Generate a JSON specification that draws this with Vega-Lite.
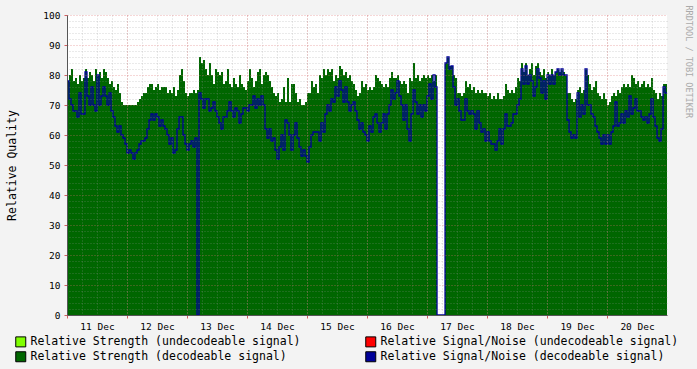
{
"$schema": "https://vega.github.io/schema/vega-lite/v6.json",
"width": 600, "height": 300,
"autosize": {"type": "none"},
"padding": {"left": 67, "top": 15, "right": 30, "bottom": 54},
"background": "#f3f3f3",
"view": {"fill": "white", "stroke": null},
"config": {"font": "DejaVu Sans Mono"},
"datasets": {"rrd": [
{"t":"2023-12-11T00:00","s":78,"n":78},{"t":"2023-12-11T00:48","s":80,"n":72},{"t":"2023-12-11T01:36","s":82,"n":70},{"t":"2023-12-11T02:24","s":78,"n":68},{"t":"2023-12-11T03:12","s":79,"n":68},{"t":"2023-12-11T04:00","s":77,"n":66},{"t":"2023-12-11T04:48","s":80,"n":74},{"t":"2023-12-11T05:36","s":78,"n":67},{"t":"2023-12-11T06:24","s":79,"n":67},{"t":"2023-12-11T07:12","s":82,"n":81},
{"t":"2023-12-11T08:00","s":79,"n":73},{"t":"2023-12-11T08:48","s":81,"n":70},{"t":"2023-12-11T09:36","s":80,"n":76},{"t":"2023-12-11T10:24","s":78,"n":70},{"t":"2023-12-11T11:12","s":82,"n":68},{"t":"2023-12-11T12:00","s":80,"n":80},{"t":"2023-12-11T12:48","s":81,"n":70},{"t":"2023-12-11T13:36","s":79,"n":73},{"t":"2023-12-11T14:24","s":82,"n":76},{"t":"2023-12-11T15:12","s":81,"n":73},
{"t":"2023-12-11T16:00","s":79,"n":70},{"t":"2023-12-11T16:48","s":77,"n":74},{"t":"2023-12-11T17:36","s":78,"n":68},{"t":"2023-12-11T18:24","s":76,"n":66},{"t":"2023-12-11T19:12","s":75,"n":63},{"t":"2023-12-11T20:00","s":77,"n":61},{"t":"2023-12-11T20:48","s":74,"n":63},{"t":"2023-12-11T21:36","s":71,"n":60},{"t":"2023-12-11T22:24","s":70,"n":59},{"t":"2023-12-11T23:12","s":70,"n":57},
{"t":"2023-12-12T00:00","s":70,"n":54},{"t":"2023-12-12T00:48","s":70,"n":55},{"t":"2023-12-12T01:36","s":70,"n":54},{"t":"2023-12-12T02:24","s":70,"n":52},{"t":"2023-12-12T03:12","s":70,"n":54},{"t":"2023-12-12T04:00","s":71,"n":55},{"t":"2023-12-12T04:48","s":72,"n":57},{"t":"2023-12-12T05:36","s":73,"n":58},{"t":"2023-12-12T06:24","s":74,"n":58},{"t":"2023-12-12T07:12","s":74,"n":59},
{"t":"2023-12-12T08:00","s":76,"n":62},{"t":"2023-12-12T08:48","s":77,"n":65},{"t":"2023-12-12T09:36","s":77,"n":67},{"t":"2023-12-12T10:24","s":75,"n":65},{"t":"2023-12-12T11:12","s":76,"n":67},{"t":"2023-12-12T12:00","s":77,"n":66},{"t":"2023-12-12T12:48","s":75,"n":63},{"t":"2023-12-12T13:36","s":76,"n":65},{"t":"2023-12-12T14:24","s":76,"n":63},{"t":"2023-12-12T15:12","s":76,"n":62},
{"t":"2023-12-12T16:00","s":74,"n":60},{"t":"2023-12-12T16:48","s":75,"n":57},{"t":"2023-12-12T17:36","s":74,"n":59},{"t":"2023-12-12T18:24","s":76,"n":54},{"t":"2023-12-12T19:12","s":73,"n":55},{"t":"2023-12-12T20:00","s":75,"n":62},{"t":"2023-12-12T20:48","s":80,"n":66},{"t":"2023-12-12T21:36","s":82,"n":66},{"t":"2023-12-12T22:24","s":78,"n":60},{"t":"2023-12-12T23:12","s":74,"n":57},
{"t":"2023-12-13T00:00","s":73,"n":55},{"t":"2023-12-13T00:48","s":74,"n":57},{"t":"2023-12-13T01:36","s":74,"n":58},{"t":"2023-12-13T02:24","s":75,"n":56},{"t":"2023-12-13T03:12","s":74,"n":59},{"t":"2023-12-13T04:00","s":75,"n":0},{"t":"2023-12-13T04:48","s":86,"n":74},{"t":"2023-12-13T05:36","s":84,"n":72},{"t":"2023-12-13T06:24","s":85,"n":69},{"t":"2023-12-13T07:12","s":82,"n":72},
{"t":"2023-12-13T08:00","s":80,"n":72},{"t":"2023-12-13T08:48","s":84,"n":68},{"t":"2023-12-13T09:36","s":80,"n":69},{"t":"2023-12-13T10:24","s":77,"n":71},{"t":"2023-12-13T11:12","s":82,"n":68},{"t":"2023-12-13T12:00","s":81,"n":66},{"t":"2023-12-13T12:48","s":80,"n":64},{"t":"2023-12-13T13:36","s":81,"n":62},{"t":"2023-12-13T14:24","s":77,"n":66},{"t":"2023-12-13T15:12","s":78,"n":66},
{"t":"2023-12-13T16:00","s":82,"n":68},{"t":"2023-12-13T16:48","s":77,"n":71},{"t":"2023-12-13T17:36","s":76,"n":68},{"t":"2023-12-13T18:24","s":79,"n":66},{"t":"2023-12-13T19:12","s":77,"n":69},{"t":"2023-12-13T20:00","s":76,"n":68},{"t":"2023-12-13T20:48","s":80,"n":64},{"t":"2023-12-13T21:36","s":77,"n":67},{"t":"2023-12-13T22:24","s":76,"n":69},{"t":"2023-12-13T23:12","s":75,"n":69},
{"t":"2023-12-14T00:00","s":78,"n":68},{"t":"2023-12-14T00:48","s":82,"n":70},{"t":"2023-12-14T01:36","s":79,"n":70},{"t":"2023-12-14T02:24","s":76,"n":73},{"t":"2023-12-14T03:12","s":78,"n":69},{"t":"2023-12-14T04:00","s":81,"n":72},{"t":"2023-12-14T04:48","s":82,"n":70},{"t":"2023-12-14T05:36","s":77,"n":73},{"t":"2023-12-14T06:24","s":80,"n":70},{"t":"2023-12-14T07:12","s":81,"n":62},
{"t":"2023-12-14T08:00","s":80,"n":59},{"t":"2023-12-14T08:48","s":78,"n":62},{"t":"2023-12-14T09:36","s":76,"n":58},{"t":"2023-12-14T10:24","s":74,"n":59},{"t":"2023-12-14T11:12","s":73,"n":55},{"t":"2023-12-14T12:00","s":74,"n":52},{"t":"2023-12-14T12:48","s":71,"n":56},{"t":"2023-12-14T13:36","s":72,"n":60},{"t":"2023-12-14T14:24","s":76,"n":55},{"t":"2023-12-14T15:12","s":71,"n":65},
{"t":"2023-12-14T16:00","s":79,"n":64},{"t":"2023-12-14T16:48","s":71,"n":60},{"t":"2023-12-14T17:36","s":77,"n":55},{"t":"2023-12-14T18:24","s":77,"n":60},{"t":"2023-12-14T19:12","s":74,"n":64},{"t":"2023-12-14T20:00","s":71,"n":59},{"t":"2023-12-14T20:48","s":72,"n":56},{"t":"2023-12-14T21:36","s":70,"n":53},{"t":"2023-12-14T22:24","s":70,"n":55},{"t":"2023-12-14T23:12","s":71,"n":53},
{"t":"2023-12-15T00:00","s":74,"n":51},{"t":"2023-12-15T00:48","s":74,"n":56},{"t":"2023-12-15T01:36","s":78,"n":60},{"t":"2023-12-15T02:24","s":76,"n":61},{"t":"2023-12-15T03:12","s":77,"n":61},{"t":"2023-12-15T04:00","s":74,"n":61},{"t":"2023-12-15T04:48","s":80,"n":58},{"t":"2023-12-15T05:36","s":79,"n":64},{"t":"2023-12-15T06:24","s":82,"n":61},{"t":"2023-12-15T07:12","s":80,"n":67},
{"t":"2023-12-15T08:00","s":82,"n":70},{"t":"2023-12-15T08:48","s":81,"n":68},{"t":"2023-12-15T09:36","s":82,"n":72},{"t":"2023-12-15T10:24","s":78,"n":71},{"t":"2023-12-15T11:12","s":80,"n":76},{"t":"2023-12-15T12:00","s":79,"n":73},{"t":"2023-12-15T12:48","s":83,"n":78},{"t":"2023-12-15T13:36","s":82,"n":75},{"t":"2023-12-15T14:24","s":80,"n":71},{"t":"2023-12-15T15:12","s":81,"n":76},
{"t":"2023-12-15T16:00","s":79,"n":71},{"t":"2023-12-15T16:48","s":80,"n":68},{"t":"2023-12-15T17:36","s":78,"n":70},{"t":"2023-12-15T18:24","s":77,"n":71},{"t":"2023-12-15T19:12","s":75,"n":68},{"t":"2023-12-15T20:00","s":73,"n":65},{"t":"2023-12-15T20:48","s":74,"n":62},{"t":"2023-12-15T21:36","s":78,"n":64},{"t":"2023-12-15T22:24","s":76,"n":61},{"t":"2023-12-15T23:12","s":77,"n":60},
{"t":"2023-12-16T00:00","s":75,"n":58},{"t":"2023-12-16T00:48","s":76,"n":63},{"t":"2023-12-16T01:36","s":75,"n":61},{"t":"2023-12-16T02:24","s":76,"n":66},{"t":"2023-12-16T03:12","s":80,"n":67},{"t":"2023-12-16T04:00","s":79,"n":64},{"t":"2023-12-16T04:48","s":78,"n":61},{"t":"2023-12-16T05:36","s":77,"n":64},{"t":"2023-12-16T06:24","s":76,"n":67},{"t":"2023-12-16T07:12","s":77,"n":62},
{"t":"2023-12-16T08:00","s":76,"n":67},{"t":"2023-12-16T08:48","s":79,"n":70},{"t":"2023-12-16T09:36","s":81,"n":75},{"t":"2023-12-16T10:24","s":79,"n":72},{"t":"2023-12-16T11:12","s":79,"n":74},{"t":"2023-12-16T12:00","s":80,"n":78},{"t":"2023-12-16T12:48","s":78,"n":73},{"t":"2023-12-16T13:36","s":77,"n":70},{"t":"2023-12-16T14:24","s":78,"n":65},{"t":"2023-12-16T15:12","s":77,"n":70},
{"t":"2023-12-16T16:00","s":74,"n":62},{"t":"2023-12-16T16:48","s":79,"n":58},{"t":"2023-12-16T17:36","s":78,"n":67},{"t":"2023-12-16T18:24","s":84,"n":75},{"t":"2023-12-16T19:12","s":79,"n":71},{"t":"2023-12-16T20:00","s":80,"n":67},{"t":"2023-12-16T20:48","s":78,"n":70},{"t":"2023-12-16T21:36","s":79,"n":66},{"t":"2023-12-16T22:24","s":80,"n":70},{"t":"2023-12-16T23:12","s":79,"n":68},
{"t":"2023-12-17T00:00","s":80,"n":73},{"t":"2023-12-17T00:48","s":79,"n":77},{"t":"2023-12-17T01:36","s":80,"n":72},{"t":"2023-12-17T02:24","s":78,"n":80},{"t":"2023-12-17T03:12","s":80,"n":76},{"t":"2023-12-17T04:00","s":0,"n":0},{"t":"2023-12-17T04:48","s":0,"n":0},{"t":"2023-12-17T05:36","s":0,"n":0},{"t":"2023-12-17T06:24","s":0,"n":0},{"t":"2023-12-17T07:12","s":84,"n":84},
{"t":"2023-12-17T08:00","s":86,"n":86},{"t":"2023-12-17T08:48","s":83,"n":82},{"t":"2023-12-17T09:36","s":83,"n":83},{"t":"2023-12-17T10:24","s":80,"n":76},{"t":"2023-12-17T11:12","s":79,"n":70},{"t":"2023-12-17T12:00","s":74,"n":72},{"t":"2023-12-17T12:48","s":74,"n":68},{"t":"2023-12-17T13:36","s":73,"n":65},{"t":"2023-12-17T14:24","s":74,"n":65},{"t":"2023-12-17T15:12","s":78,"n":72},
{"t":"2023-12-17T16:00","s":76,"n":68},{"t":"2023-12-17T16:48","s":77,"n":67},{"t":"2023-12-17T17:36","s":75,"n":68},{"t":"2023-12-17T18:24","s":76,"n":67},{"t":"2023-12-17T19:12","s":74,"n":62},{"t":"2023-12-17T20:00","s":75,"n":68},{"t":"2023-12-17T20:48","s":74,"n":64},{"t":"2023-12-17T21:36","s":75,"n":61},{"t":"2023-12-17T22:24","s":74,"n":62},{"t":"2023-12-17T23:12","s":74,"n":58},
{"t":"2023-12-18T00:00","s":73,"n":61},{"t":"2023-12-18T00:48","s":74,"n":58},{"t":"2023-12-18T01:36","s":72,"n":57},{"t":"2023-12-18T02:24","s":73,"n":57},{"t":"2023-12-18T03:12","s":72,"n":55},{"t":"2023-12-18T04:00","s":74,"n":58},{"t":"2023-12-18T04:48","s":72,"n":62},{"t":"2023-12-18T05:36","s":72,"n":57},{"t":"2023-12-18T06:24","s":73,"n":62},{"t":"2023-12-18T07:12","s":77,"n":67},
{"t":"2023-12-18T08:00","s":75,"n":63},{"t":"2023-12-18T08:48","s":74,"n":63},{"t":"2023-12-18T09:36","s":75,"n":64},{"t":"2023-12-18T10:24","s":74,"n":67},{"t":"2023-12-18T11:12","s":76,"n":67},{"t":"2023-12-18T12:00","s":79,"n":70},{"t":"2023-12-18T12:48","s":78,"n":72},{"t":"2023-12-18T13:36","s":84,"n":82},{"t":"2023-12-18T14:24","s":81,"n":77},{"t":"2023-12-18T15:12","s":84,"n":83},
{"t":"2023-12-18T16:00","s":80,"n":77},{"t":"2023-12-18T16:48","s":82,"n":80},{"t":"2023-12-18T17:36","s":84,"n":78},{"t":"2023-12-18T18:24","s":80,"n":73},{"t":"2023-12-18T19:12","s":83,"n":76},{"t":"2023-12-18T20:00","s":84,"n":82},{"t":"2023-12-18T20:48","s":81,"n":79},{"t":"2023-12-18T21:36","s":80,"n":74},{"t":"2023-12-18T22:24","s":82,"n":78},{"t":"2023-12-18T23:12","s":79,"n":72},
{"t":"2023-12-19T00:00","s":81,"n":80},{"t":"2023-12-19T00:48","s":80,"n":77},{"t":"2023-12-19T01:36","s":82,"n":80},{"t":"2023-12-19T02:24","s":80,"n":77},{"t":"2023-12-19T03:12","s":81,"n":81},{"t":"2023-12-19T04:00","s":82,"n":82},{"t":"2023-12-19T04:48","s":81,"n":80},{"t":"2023-12-19T05:36","s":82,"n":82},{"t":"2023-12-19T06:24","s":81,"n":80},{"t":"2023-12-19T07:12","s":80,"n":80},
{"t":"2023-12-19T08:00","s":74,"n":65},{"t":"2023-12-19T08:48","s":74,"n":61},{"t":"2023-12-19T09:36","s":72,"n":59},{"t":"2023-12-19T10:24","s":71,"n":60},{"t":"2023-12-19T11:12","s":72,"n":59},{"t":"2023-12-19T12:00","s":75,"n":74},{"t":"2023-12-19T12:48","s":76,"n":66},{"t":"2023-12-19T13:36","s":74,"n":70},{"t":"2023-12-19T14:24","s":75,"n":67},{"t":"2023-12-19T15:12","s":82,"n":82},
{"t":"2023-12-19T16:00","s":80,"n":70},{"t":"2023-12-19T16:48","s":77,"n":70},{"t":"2023-12-19T17:36","s":75,"n":67},{"t":"2023-12-19T18:24","s":76,"n":66},{"t":"2023-12-19T19:12","s":78,"n":63},{"t":"2023-12-19T20:00","s":74,"n":61},{"t":"2023-12-19T20:48","s":73,"n":59},{"t":"2023-12-19T21:36","s":72,"n":57},{"t":"2023-12-19T22:24","s":74,"n":60},{"t":"2023-12-19T23:12","s":72,"n":57},
{"t":"2023-12-20T00:00","s":70,"n":60},{"t":"2023-12-20T00:48","s":71,"n":57},{"t":"2023-12-20T01:36","s":73,"n":61},{"t":"2023-12-20T02:24","s":74,"n":63},{"t":"2023-12-20T03:12","s":73,"n":71},{"t":"2023-12-20T04:00","s":75,"n":63},{"t":"2023-12-20T04:48","s":74,"n":64},{"t":"2023-12-20T05:36","s":76,"n":67},{"t":"2023-12-20T06:24","s":77,"n":64},{"t":"2023-12-20T07:12","s":76,"n":68},
{"t":"2023-12-20T08:00","s":77,"n":66},{"t":"2023-12-20T08:48","s":76,"n":73},{"t":"2023-12-20T09:36","s":80,"n":67},{"t":"2023-12-20T10:24","s":79,"n":69},{"t":"2023-12-20T11:12","s":77,"n":72},{"t":"2023-12-20T12:00","s":78,"n":68},{"t":"2023-12-20T12:48","s":76,"n":68},{"t":"2023-12-20T13:36","s":77,"n":66},{"t":"2023-12-20T14:24","s":78,"n":65},{"t":"2023-12-20T15:12","s":76,"n":66},
{"t":"2023-12-20T16:00","s":77,"n":64},{"t":"2023-12-20T16:48","s":76,"n":67},{"t":"2023-12-20T17:36","s":79,"n":72},{"t":"2023-12-20T18:24","s":75,"n":66},{"t":"2023-12-20T19:12","s":74,"n":63},{"t":"2023-12-20T20:00","s":72,"n":59},{"t":"2023-12-20T20:48","s":74,"n":58},{"t":"2023-12-20T21:36","s":73,"n":62},{"t":"2023-12-20T22:24","s":77,"n":76},{"t":"2023-12-20T23:12","s":77,"n":74},
{"t":"2023-12-20T23:59","s":77,"n":74}
]},
"data": {"name": "rrd"},
"layer": [
 {
  "mark": {"type": "area", "interpolate": "step-after"},
  "encoding": {
   "x": {"field": "t", "type": "temporal",
     "scale": {"domain": [{"year": 2023, "month": 12, "date": 11}, {"year": 2023, "month": 12, "date": 20, "hours": 23, "minutes": 59}]},
     "axis": {"orient": "bottom", "tickCount": 40, "labels": false, "ticks": false, "domain": false, "grid": true, "gridColor": "#999999", "gridOpacity": 0.4, "gridDash": [1, 2], "zindex": 1, "title": null}},
   "y": {"field": "s", "type": "quantitative", "scale": {"domain": [0, 100]},
     "axis": {"orient": "right", "values": [2,4,6,8,12,14,16,18,22,24,26,28,32,34,36,38,42,44,46,48,52,54,56,58,62,64,66,68,72,74,76,78,82,84,86,88,92,94,96,98], "labels": false, "ticks": false, "domain": false, "grid": true, "gridColor": "#999999", "gridOpacity": 0.4, "gridDash": [1, 2], "zindex": 1,
       "title": "RRDTOOL / TOBI OETIKER", "titleFont": "DejaVu Sans Mono", "titleFontSize": 8.5, "titleFontWeight": "normal", "titleColor": "#aaaaaa", "titleAngle": 90, "titleAlign": "left", "titleBaseline": "middle", "titleX": 21, "titleY": -10}},
   "fill": {"datum": "Relative Strength  (decodeable signal)",
     "scale": {"domain": ["Relative Strength (undecodeable signal)", "Relative Strength  (decodeable signal)", "Relative Signal/Noise (undecodeable signal)", "Relative Signal/Noise (decodeable signal)"], "range": ["#80ff00", "#006600", "#ff0000", "#000099"]},
     "legend": {"orient": "none", "legendX": -52, "legendY": 321, "columns": 2, "columnPadding": 62, "rowPadding": 0, "symbolType": "square", "symbolSize": 100, "symbolStrokeColor": "black", "symbolStrokeWidth": 1, "labelFont": "DejaVu Sans Mono", "labelFontSize": 11.5, "labelColor": "black", "labelLimit": 400, "title": null}}
  }
 },
 {
  "mark": {"type": "line", "interpolate": "step-after", "color": "#000099", "strokeWidth": 1.3},
  "encoding": {
   "x": {"field": "t", "type": "temporal",
     "axis": {"orient": "bottom", "tickCount": 10, "format": "%d %b", "labelOffset": 30, "labelFlush": false, "labelFont": "DejaVu Sans Mono", "labelFontSize": 9.5, "labelColor": "black", "labelPadding": 3, "tickColor": "#d06060", "tickSize": 3, "domainColor": "#555555", "grid": true, "gridColor": "#e07070", "gridOpacity": 0.55, "gridDash": [1, 2], "zindex": 1, "title": null}},
   "y": {"field": "n", "type": "quantitative",
     "axis": {"orient": "left", "values": [0,10,20,30,40,50,60,70,80,90,100], "labelFont": "DejaVu Sans Mono", "labelFontSize": 9.5, "labelColor": "black", "labelPadding": 4, "tickColor": "#d06060", "tickSize": 3, "domainColor": "#555555", "grid": true, "gridColor": "#e07070", "gridOpacity": 0.55, "gridDash": [1, 2], "zindex": 1,
       "title": "Relative Quality", "titleFont": "DejaVu Sans Mono", "titleFontSize": 11.5, "titleFontWeight": "normal", "titleColor": "black", "titleAngle": -90, "titleAlign": "center", "titleBaseline": "middle", "titleX": -55, "titleY": 150}}
  }
 }
],
"resolve": {"axis": {"x": "independent", "y": "independent"}}
}
